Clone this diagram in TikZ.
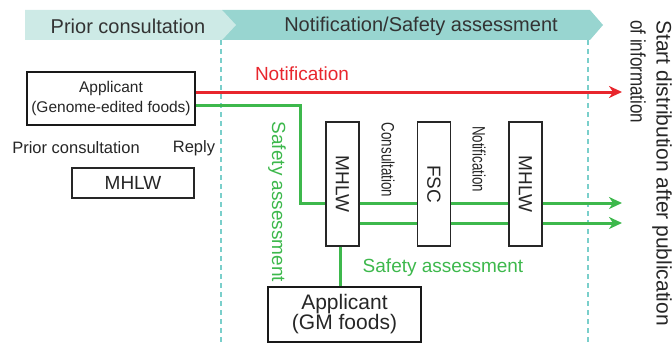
\documentclass[tikz,border=0pt]{standalone}
\usepackage{fontspec}
\setmainfont{Liberation Sans}
\usetikzlibrary{arrows.meta}
\definecolor{hdrlight}{HTML}{CDEAE6}
\definecolor{hdrdark}{HTML}{98D5D0}
\definecolor{notired}{HTML}{E8262D}
\definecolor{safegreen}{HTML}{3DB84C}
\definecolor{dashteal}{HTML}{7ACFCB}
\newcommand{\fsz}[2]{\fontsize{#1}{#2}\selectfont}

\begin{document}
\begin{tikzpicture}[x=1pt, y=-1pt,
		box/.style={draw=black!85, line width=1.3pt, fill=white, inner sep=0pt, text=black!85},
		thickbox/.style={draw=black!90, line width=2.4pt, fill=white, align=center, inner sep=0pt, text=black!85},
		redline/.style={line width=3pt, notired},
		greenline/.style={line width=3pt, safegreen},
		arrowend/.style={-{Stealth[length=13pt, width=12pt, inset=4pt]}},
		dashsep/.style={dashteal, line width=1.3pt, dash pattern=on 5pt off 4pt}]
		\useasboundingbox (0,0) rectangle (672,345);
		% header
		\fill[hdrdark] (222,10) -- (590,10) -- (603,25) -- (590,40) -- (222,40) -- cycle;
		\fill[hdrlight] (25,10) -- (222,10) -- (236,25) -- (222,40) -- (25,40) -- cycle;
		\node[font=\fsz{20}{20}, text=black!80] (hdrprior) at (128,26) {Prior consultation};
		\node[font=\fsz{20}{20}, text=black!80] (hdrnotif) at (421,26) {Notification/Safety assessment};
		% dashed
		\draw[dashsep] (221,40) -- (221,345);
		\draw[dashsep] (588,40) -- (588,345);
		% boxes
		\node[thickbox, minimum width=168, minimum height=53, font=\fsz{15.5}{20}] (appgenome) at (111,98.5) {Applicant\\(Genome-edited foods)};
		\node[font=\fsz{16.5}{18}, text=black!85] (priortxt) at (76,148) {Prior consultation};
		\node[font=\fsz{16.5}{18}, text=black!85] (replytxt) at (194,148) {Reply};
		\node[box, minimum width=122, minimum height=30, font=\fsz{19}{20}] (mhlwpre) at (133,183) {MHLW};
		\foreach \nm/\xx/\txt in {mhlwa/342.5/MHLW, fsc/434/FSC, mhlwb/525.5/MHLW}
			\node[box, minimum width=33, minimum height=124, font=\fsz{19}{20}] (\nm) at (\xx,184) {\rotatebox{-90}{\txt}};
		\node[rotate=-90, font=\fsz{18}{18}, text=black!85] (consulttxt) at (388,160) {\scalebox{0.74}[1]{Consultation}};
		\node[rotate=-90, font=\fsz{18}{18}, text=black!85] (notiftxt) at (479,159) {\scalebox{0.74}[1]{Notification}};
		\node[thickbox, minimum width=153, minimum height=55, font=\fsz{21}{20}] (appgm) at (344.5,314.5) {Applicant\\(GM foods)};
		% arrows
		\coordinate (endred) at (622,92);
		\coordinate (bend) at (300,105);
		\coordinate (endga) at (622,203);
		\coordinate (endgb) at (622,223);
		\draw[redline, arrowend] (appgenome.east |- endred) -- (endred);
		\draw[greenline] (appgenome.east |- bend) -- (bend) |- (mhlwa.west |- endga);
		\foreach \e in {endga, endgb} {
			\draw[greenline] (mhlwa.east |- \e) -- (fsc.west |- \e);
			\draw[greenline] (fsc.east |- \e) -- (mhlwb.west |- \e);
			\draw[greenline, arrowend] (mhlwb.east |- \e) -- (\e);
		}
		\draw[greenline] ([xshift=-2pt]mhlwa.south) -- ([xshift=-2pt]mhlwa.south |- appgm.north);
		% labels
		\node[text=notired, font=\fsz{19}{19}] (notifred) at (302,74) {Notification};
		\node[text=safegreen, rotate=-90, font=\fsz{19}{19}] (safevert) at (277,202) {Safety assessment};
		\node[text=safegreen, font=\fsz{19}{19}] (safehoriz) at (443,268) {Safety assessment};
		\node[rotate=-90, anchor=west, inner sep=0pt, font=\fsz{21}{21}, text=black!85] (startdist) at (662,20) {Start distribution after publication};
		\node[rotate=-90, anchor=west, inner sep=0pt, font=\fsz{21}{21}, text=black!85] (ofinfo) at (638,20) {\scalebox{0.81}[1]{of information}};
	\end{tikzpicture}
\end{document}
